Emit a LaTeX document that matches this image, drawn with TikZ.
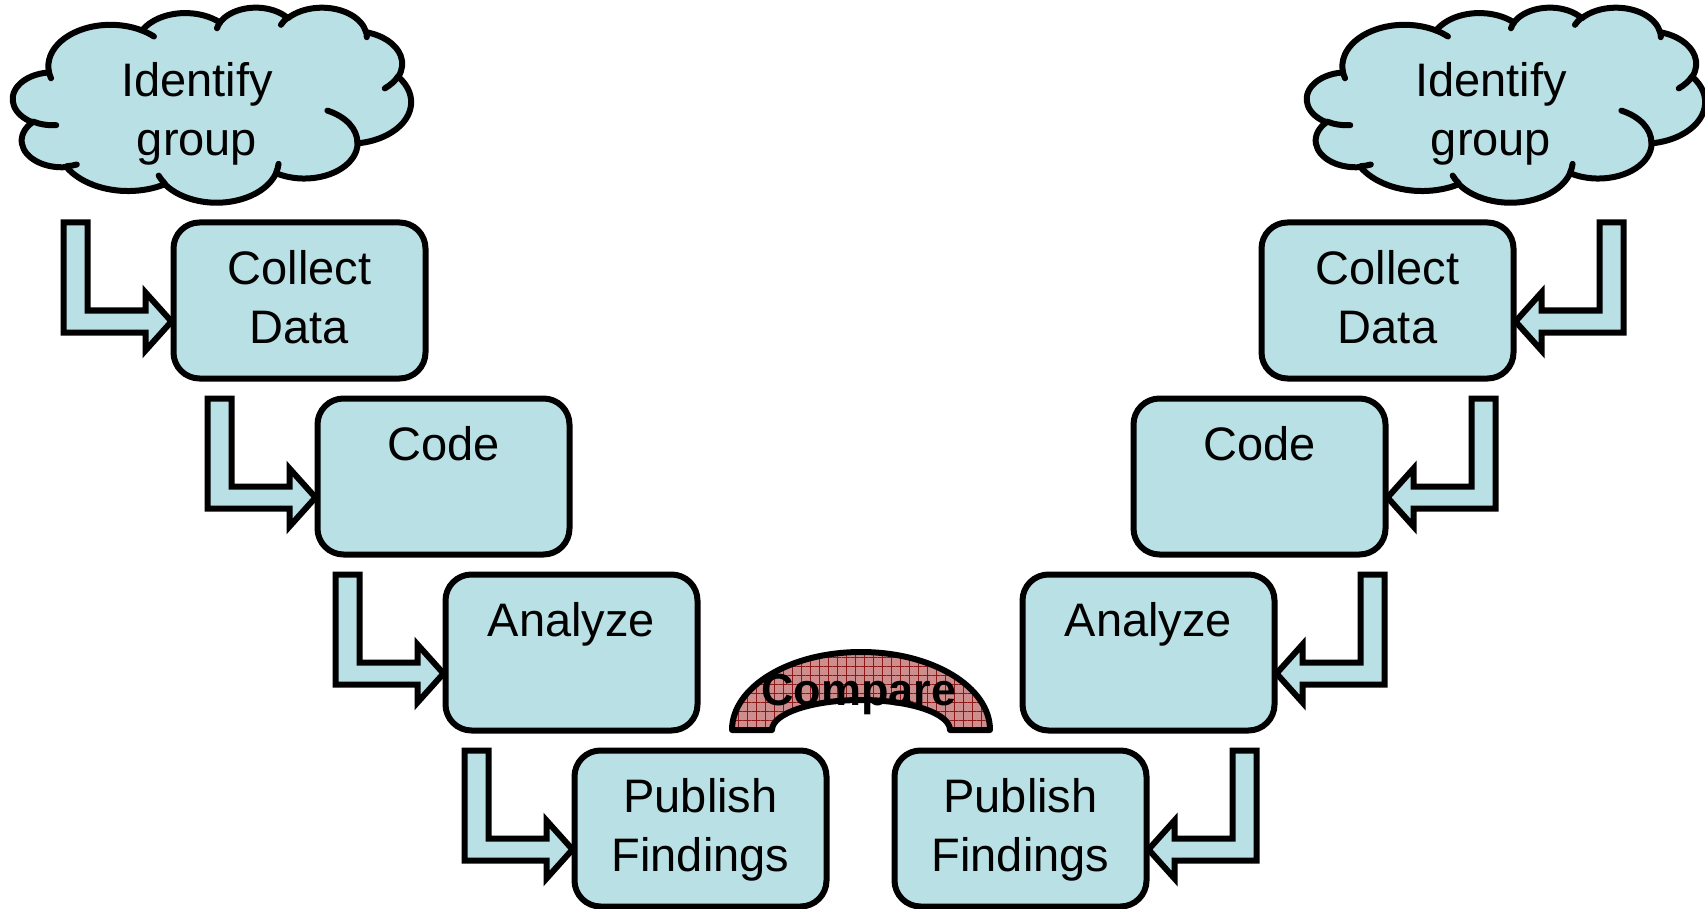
\documentclass[tikz,border=0pt]{standalone}
\usepackage{fontspec}
\setmainfont{Liberation Sans}
\usetikzlibrary{patterns.meta,calc}
\definecolor{paleblue}{RGB}{185,224,228}
\definecolor{archred}{RGB}{206,142,142}
\definecolor{gridred}{RGB}{140,24,24}
\tikzset{
  procbox/.style={draw=black, line width=6pt, fill=paleblue, rounded corners=26pt,
    minimum width=252pt, minimum height=156pt, anchor=north west, inner sep=0pt, outer sep=0pt},
  blockarrow/.style={draw=black, line width=6pt, fill=paleblue, line join=miter, miter limit=10},
  lbl/.style={font=\fontsize{47}{59}\selectfont, anchor=base, inner sep=0pt},
  cmplbl/.style={font=\fontsize{45}{50}\selectfont\bfseries, anchor=base, inner sep=0pt},
  cloudline/.style={draw=black, line width=6pt, line cap=round, line join=round},
}
% elliptical arc continuing the current path: x radius, y radius,
% start and sweep given as angles measured on the ellipse itself
\newcommand\ooarc[4]{arc[x radius=#1, y radius=#2,
  start angle={atan2(#1*sin(#3),#2*cos(#3))},
  delta angle={mod(atan2(#1*sin(#3+#4),#2*cos(#3+#4))-atan2(#1*sin(#3),#2*cos(#3))+720,360)}]}
% cloud in a 432 x 432 frame
\newcommand\cloudshape{%
  \filldraw[cloudline, fill=paleblue] (39.00,143.70)
    \ooarc{67.53}{91.90}{-190.4875}{123.7805}
    \ooarc{53.33}{72.67}{-144.1024}{89.9452}
    \ooarc{43.65}{59.45}{-145.8079}{99.7230}
    \ooarc{48.57}{65.95}{-130.9861}{117.2417}
    \ooarc{53.33}{72.73}{-78.7089}{109.0269}
    \ooarc{67.75}{92.20}{-46.2673}{130.2690}
    \ooarc{57.85}{78.67}{0.6250}{114.0333}
    \ooarc{67.52}{92.15}{22.4516}{115.1726}
    \ooarc{77.20}{105.43}{66.2426}{75.7110}
    \ooarc{43.60}{59.18}{-274.9421}{146.7356}
    \ooarc{43.45}{59.45}{-246.8285}{152.5189} -- cycle;
  \draw[cloudline]
    (46.93,261.77) \ooarc{43.45}{59.45}{86.742}{26.4295}
    (69.28,348.99) \ooarc{43.60}{59.18}{73.6105}{11.4475}
    (164.78,390.90) \ooarc{67.52}{92.15}{137.6242}{14.0811}
    (288.27,347.51) \ooarc{67.52}{92.15}{6.4533}{15.9984}
    (341.29,229.54) \ooarc{57.85}{78.67}{-70.2924}{70.9174}
    (417.98,153.54) \ooarc{53.33}{72.73}{30.3180}{27.7515}
    (383.24,54.26) \ooarc{48.57}{65.95}{-13.7443}{14.8589}
    (290.78,39.52) \ooarc{48.57}{65.95}{-149.1815}{18.1954}
    (221.41,47.20) \ooarc{43.65}{59.45}{-163.4943}{17.6864}
    (140.00,51.92) \ooarc{67.53}{91.90}{-66.7070}{12.3194}
    (41.27,157.89) \ooarc{67.53}{91.90}{157.6544}{11.8582};
}
% bent block arrow ending at the side of a box; #1 = box corner, #2 = +1 (left) / -1 (right)
\newcommand\bentarrow[2]{%
  \draw[blockarrow, shift={(#1)}, xscale=#2]
    (-110,0) -- (-86,0) -- (-86,88) -- (-28,88) -- (-28,70) -- (-2,99)
    -- (-28,128) -- (-28,110) -- (-110,110) -- cycle;}
% outline of the arch between the two columns
\newcommand\archoutline{(732,730) arc[start angle=180, end angle=360, x radius=129, y radius=78]
  -- (950,730) arc[start angle=0, end angle=-180, x radius=89, y radius=30] -- cycle}
\begin{document}
\begin{tikzpicture}[x=1pt,y=-1pt]
\useasboundingbox (0,0) rectangle (1705,909);

% clouds
\begin{scope}[xshift=13pt, yshift=-7pt, x=0.92130pt, y=-0.45139pt]
  \cloudshape
\end{scope}
\begin{scope}[xshift=1307pt, yshift=-7pt, x=0.92130pt, y=-0.45139pt]
  \cloudshape
\end{scope}
\node[lbl] (lid) at (197,97) {Identify};
\node[lbl] (lgr) at (197,156) {group};
\node[lbl] (rid) at (1491,97) {Identify};
\node[lbl] (rgr) at (1491,156) {group};

% left column
\node[procbox] (LC) at (173.5,222.5) {};
\node[procbox] (LK) at (317.5,398.5) {};
\node[procbox] (LA) at (445.5,574.5) {};
\node[procbox] (LP) at (574.5,750.5) {};
% right column
\node[procbox] (RC) at (1261.5,222.5) {};
\node[procbox] (RK) at (1133.5,398.5) {};
\node[procbox] (RA) at (1022.5,574.5) {};
\node[procbox] (RP) at (894.5,750.5) {};

% box labels
\foreach \b/\first/\second in {LC/Collect/Data, RC/Collect/Data, LK/Code/, RK/Code/,
    LA/Analyze/, RA/Analyze/, LP/Publish/Findings, RP/Publish/Findings}{
  \node[lbl] (\b-l1) at ($(\b.north)+(0,62)$) {\first};
  \node[lbl] (\b-l2) at ($(\b.north)+(0,121)$) {\second};
}

% arrows into the boxes
\foreach \b in {LC,LK,LA,LP}{\bentarrow{\b.north west}{1}}
\foreach \b in {RC,RK,RA,RP}{\bentarrow{\b.north east}{-1}}

% compare arch
\fill[archred] \archoutline;
\fill[pattern={Lines[angle=0,distance=9pt,line width=0.9pt]}, pattern color=gridred] \archoutline;
\fill[pattern={Lines[angle=90,distance=9pt,line width=0.9pt]}, pattern color=gridred] \archoutline;
\draw[line width=6pt, line join=round] \archoutline;
\node[cmplbl] (cmp) at (859,705) {Compare};
\end{tikzpicture}
\end{document}
